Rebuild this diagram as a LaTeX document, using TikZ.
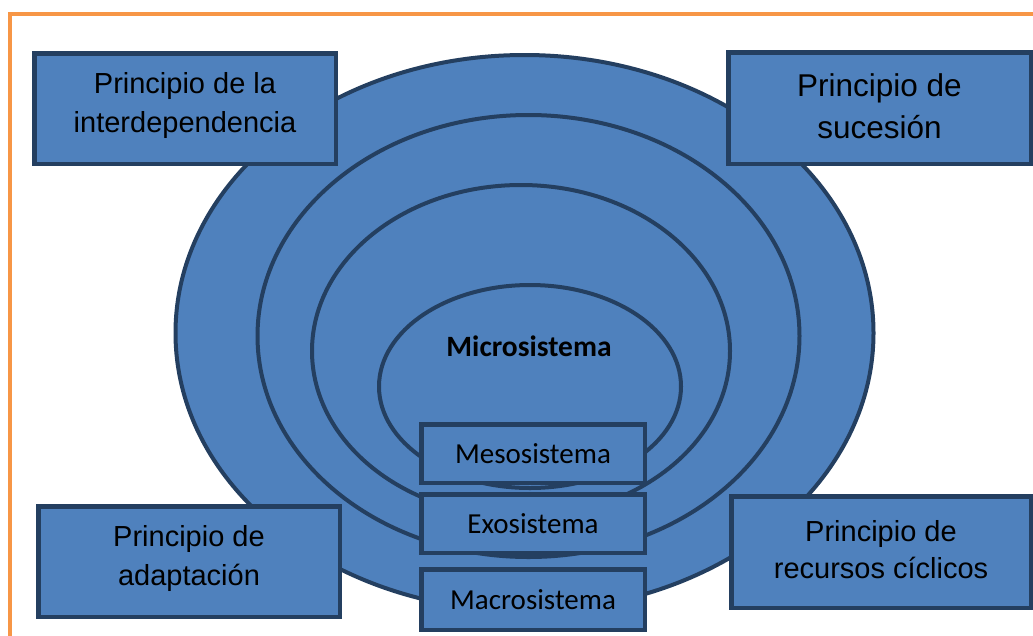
\documentclass[tikz,border=0pt]{standalone}
\usepackage{fontspec}
\setmainfont{Liberation Sans}
\newfontfamily\calfont{Carlito}
\definecolor{fillblue}{HTML}{4F81BD}
\definecolor{edgeblue}{HTML}{243F60}
\definecolor{frameorange}{HTML}{F79646}
\begin{document}
\begin{tikzpicture}[x=1pt,y=-1pt,
  ring/.style={draw=edgeblue, fill=fillblue, line width=4pt},
  pbox/.style={draw=edgeblue, fill=fillblue, line width=4.5pt, inner sep=0pt},
  ptext/.style={inner sep=0pt, align=center, font=\fontsize{29}{39}\selectfont},
  sbox/.style={draw=edgeblue, fill=fillblue, line width=4.5pt, inner sep=0pt,
    minimum width=223.5pt, minimum height=58.5pt, font=\calfont\fontsize{29}{34}\selectfont}]
\useasboundingbox (0,0) rectangle (1033,635);
% orange frame
\draw[frameorange, line width=4pt] (10,640) -- (10,14) -- (1040,14);
% nested ellipses
\draw[ring] (524.5,333) ellipse [x radius=349pt, y radius=278pt];
\draw[ring] (528.5,336) ellipse [x radius=271pt, y radius=221pt];
\draw[ring] (521,351) ellipse [x radius=209pt, y radius=166pt];
\draw[ring] (530,386.5) ellipse [x radius=151pt, y radius=101.5pt];
\node[font=\calfont\bfseries\fontsize{29.5}{34}\selectfont] (micro) at (529,346) {Microsistema};
% system boxes
\node[sbox] (meso) at (533,453.5) {Mesosistema};
\node[sbox] (exo) at (533,523.5) {Exosistema};
\node[sbox, minimum height=60.5pt] (macro) at (533,599.5) {Macrosistema};
% principle boxes
\node[pbox, minimum width=301.5pt, minimum height=110.5pt] (interdep) at (185,108.5) {};
\node[ptext] (interdep-t) at ([yshift=3pt]interdep.center) {Principio de la\\interdependencia};
\node[pbox, minimum width=302.5pt, minimum height=111.5pt] (sucesion) at (879.5,108) {};
\node[ptext, font=\fontsize{31.5}{42}\selectfont] (sucesion-t) at ([yshift=2pt]sucesion.center) {Principio de\\sucesión};
\node[pbox, minimum width=301.5pt, minimum height=110.5pt] (adapt) at (189,561.5) {};
\node[ptext] (adapt-t) at ([yshift=3pt]adapt.center) {Principio de\\adaptación};
\node[pbox, minimum width=299.5pt, minimum height=111.5pt] (recursos) at (881,552) {};
\node[ptext, font=\fontsize{29}{37}\selectfont] (recursos-t) at ([yshift=2pt]recursos.center) {Principio de\\recursos cíclicos};
\end{tikzpicture}
\end{document}
